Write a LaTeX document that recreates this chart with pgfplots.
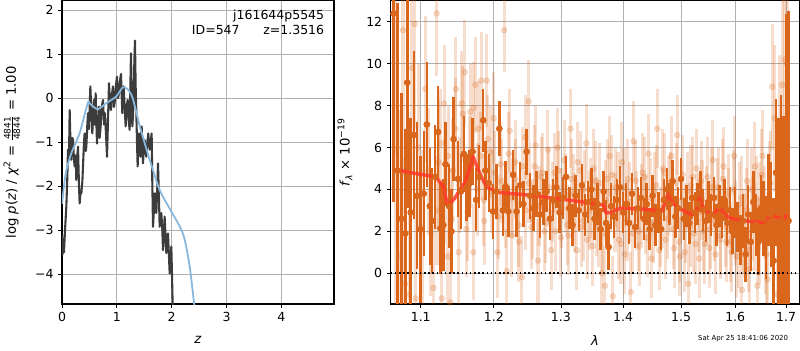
\documentclass[border=0pt]{standalone}
\usepackage{pgfplots}
\usepackage{pgfplotstable}
\pgfplotsset{compat=1.18}
\usepackage{fontspec}
\setmainfont{DejaVu Sans}
\definecolor{dk}{HTML}{D9661A}
\definecolor{bl}{HTML}{8AB8DC}
\definecolor{pz}{HTML}{3C3C3C}
\definecolor{gridc}{HTML}{B0B0B0}
\definecolor{redl}{HTML}{FF3A2A}

\pgfplotstableread{
z y
0.000 -3.10
0.012 -3.55
0.024 -3.20
0.036 -3.50
0.055 -3.00
0.079 -2.46
0.097 -1.80
0.109 -1.17
0.128 -1.30
0.140 -0.27
0.158 -1.20
0.170 -1.40
0.188 -0.90
0.201 -0.95
0.219 -1.40
0.231 -1.55
0.249 -1.30
0.261 -1.86
0.280 -1.30
0.292 -1.10
0.310 -2.00
0.322 -2.39
0.340 -2.10
0.353 -2.16
0.371 -1.90
0.383 -1.55
0.401 -1.00
0.413 -0.80
0.432 -1.20
0.444 -1.10
0.462 -0.60
0.474 -0.34
0.492 -0.70
0.505 -0.20
0.517 0.27
0.535 -0.30
0.553 -0.80
0.565 -0.50
0.584 -0.04
0.596 -0.60
0.614 0.11
0.626 -0.50
0.638 -1.03
0.657 -0.60
0.675 -0.19
0.687 -0.90
0.705 -0.64
0.723 -0.20
0.748 -0.04
0.766 -0.60
0.784 -0.34
0.802 -0.80
0.821 -1.33
0.839 -0.50
0.857 0.34
0.875 -0.10
0.894 -0.27
0.912 0.10
0.930 0.27
0.948 -0.20
0.967 -0.04
0.985 0.30
1.003 0.49
1.021 0.00
1.040 0.11
1.058 0.40
1.076 0.55
1.088 0.10
1.100 -0.34
1.112 0.10
1.125 0.27
1.143 -0.20
1.161 -0.64
1.179 -0.20
1.198 -0.04
1.216 -0.50
1.234 -0.72
1.246 0.20
1.258 1.02
1.271 0.10
1.283 -0.64
1.295 -0.40
1.307 -0.04
1.319 0.80
1.331 1.31
1.343 0.30
1.356 -0.34
1.368 -1.00
1.380 -1.55
1.392 -1.00
1.404 -0.80
1.416 -1.10
1.429 -1.33
1.441 -0.90
1.453 -0.64
1.465 -1.10
1.477 -1.48
1.495 -1.10
1.508 -0.95
1.526 -1.20
1.538 -1.33
1.556 -1.00
1.574 -0.80
1.587 -1.00
1.599 -1.17
1.617 -1.00
1.635 -0.80
1.647 -1.90
1.660 -2.92
1.678 -2.50
1.696 -2.16
1.708 -2.40
1.720 -2.61
1.739 -2.00
1.751 -1.48
1.769 -2.30
1.781 -2.92
1.799 -2.70
1.812 -2.61
1.830 -3.00
1.842 -3.45
1.860 -3.10
1.872 -2.69
1.891 -3.20
1.903 -3.52
1.921 -3.30
1.933 -3.07
1.951 -3.60
1.964 -3.98
1.982 -3.60
1.994 -3.37
2.006 -4.00
2.018 -4.67
2.024 -5.50
}\pzdata

\pgfplotstableread{
z y
0.000 -2.40
0.040 -1.95
0.080 -1.63
0.170 -1.25
0.320 -0.80
0.470 -0.11
0.500 -0.11
0.560 -0.18
0.660 -0.25
0.810 -0.11
0.990 0.04
1.110 0.25
1.200 0.20
1.290 0.00
1.420 -0.64
1.600 -1.40
1.780 -2.08
1.960 -2.50
2.150 -2.92
2.240 -3.22
2.330 -3.83
2.410 -4.67
2.440 -5.00
}\tpl

\pgfplotstableread{
x y
1.0723 4.91
1.090 4.78
1.110 4.66
1.121 4.55
1.130 4.15
1.1359 3.22
1.145 3.55
1.152 3.95
1.160 4.35
1.166 5.00
1.171 5.58
1.176 5.10
1.181 4.70
1.187 4.30
1.193 4.07
1.207 3.86
1.245 3.75
1.300 3.54
1.354 3.32
1.368 3.25
1.372 2.87
1.380 2.90
1.390 3.05
1.400 3.11
1.440 3.05
1.466 2.95
1.472 3.40
1.477 3.80
1.482 3.45
1.487 3.30
1.500 3.05
1.515 2.85
1.525 2.80
1.529 3.10
1.533 3.60
1.538 3.25
1.543 3.00
1.557 2.80
1.566 3.00
1.570 3.20
1.575 3.00
1.580 2.80
1.590 2.65
1.599 2.58
1.620 2.50
1.653 2.42
1.660 2.55
1.665 2.70
1.680 2.72
1.688 2.60
1.693 2.50
1.698 2.55
1.700 2.80
}\model

\pgfplotstableread{
x y e
1.065 12.4 9
1.070 4.9 8
1.075 2.6 6
1.080 1.9 5
1.0825 9.1 6
1.087 2.9 4.5
1.091 6.6 4
1.095 3.7 3.5
1.100 2.1 3.5
1.104 3.8 3
1.108 7.1 3
1.112 3.2 2.8
1.115 2.5 2.5
1.119 4.6 2.5
1.123 6.75 2.2
1.126 2.15 2.2
1.130 2.3 2.2
1.133 5.2 2.0
1.138 3.2 2.0
1.141 2.0 2.0
1.144 6.4 2.0
1.150 4.5 1.8
1.154 3.9 1.8
1.158 5.7 1.8
1.162 4.1 1.6
1.166 4.3 1.6
1.170 5.8 1.6
1.175 3.5 1.5
1.179 4.6 1.5
1.185 7.3 1.5
1.188 4.9 1.4
1.193 4.3 1.4
1.199 2.95 1.3
1.204 3.9 1.3
1.208 6.9 1.3
1.213 3.0 1.2
1.217 4.15 1.2
1.221 2.95 1.2
1.228 4.7 1.2
1.233 2.95 1.2
1.238 4.2 1.1
1.243 3.3 1.1
1.248 5.8 1.1
1.253 3.7 1.1
1.258 3.1 1.1
1.263 3.8 1.1
1.268 2.8 1.1
1.273 3.4 1.1
1.278 3.9 1.0
1.283 2.6 1.0
1.288 3.5 1.0
1.293 4.1 1.0
1.298 2.9 1.0
1.303 3.6 1.0
1.308 4.6 1.0
1.313 3.1 1.0
1.318 2.3 1.0
1.323 3.7 1.0
1.328 3.0 1.0
1.333 4.2 1.0
1.338 2.8 1.0
1.343 3.4 1.0
1.348 4.0 1.0
1.353 2.6 1.0
1.358 3.3 1.0
1.363 2.1 1.0
1.368 3.9 1.0
1.372 2.4 1.1
1.376 1.25 1.1
1.380 3.2 1.1
1.385 2.7 1.0
1.390 3.5 1.0
1.395 4.1 1.0
1.400 2.9 1.0
1.405 3.3 1.0
1.410 2.4 1.0
1.415 3.8 1.0
1.420 2.2 1.0
1.425 3.1 1.0
1.430 3.6 1.0
1.435 2.6 1.0
1.440 3.3 1.0
1.445 2.1 1.0
1.450 3.7 1.0
1.455 2.3 1.0
1.460 2.9 1.0
1.465 2.1 1.0
1.470 3.5 1.0
1.475 4.0 1.0
1.480 3.3 1.0
1.485 4.4 1.0
1.490 2.7 1.0
1.495 3.1 1.0
1.500 4.5 1.0
1.505 2.6 1.0
1.510 3.2 1.0
1.515 2.4 1.0
1.520 3.6 1.0
1.525 2.9 1.0
1.530 3.3 1.0
1.535 3.9 1.0
1.540 3.0 1.0
1.545 2.5 1.0
1.550 3.4 1.0
1.555 2.8 1.0
1.560 3.6 1.0
1.565 2.3 1.0
1.570 3.2 1.0
1.575 2.7 1.0
1.580 3.5 1.0
1.585 2.4 1.1
1.590 3.0 1.1
1.595 2.0 1.1
1.600 2.9 1.2
1.605 2.2 1.2
1.610 1.6 1.2
1.615 2.5 1.3
1.620 0.9 1.3
1.625 2.8 1.4
1.630 1.5 1.4
1.635 3.4 1.5
1.640 2.3 1.5
1.645 1.5 1.6
1.650 3.1 1.6
1.655 2.6 1.8
1.660 1.7 2.0
1.665 3.5 2.2
1.670 2.8 2.5
1.675 0.6 3.0
1.680 4.8 3.5
1.685 2.9 4.5
1.690 2.5 6
1.695 -0.5 8
1.700 2.4 10
1.705 2.5 10
}\dark

\pgfplotstableread{
x y e
1.0675 5.9 8
1.0725 0.8 7
1.077 11.6 7
1.0795 -0.5 6
1.085 -1.0 6
1.0885 9.8 5
1.092 11.9 5
1.0935 -1.2 5
1.097 6.0 4
1.102 1.9 4
1.106 8.8 3.5
1.110 4.9 3
1.113 1.9 3
1.117 -0.7 3
1.121 12.4 3
1.124 5.3 3
1.128 -1.2 2.8
1.131 8.1 2.8
1.136 0.8 2.5
1.140 -1.4 2.5
1.143 4.9 2.5
1.147 8.8 2.5
1.151 1.0 2.5
1.155 8.1 2.5
1.159 9.6 2.5
1.163 2.9 2.3
1.167 7.7 2.3
1.171 1.0 2.3
1.174 9.0 2.3
1.178 6.9 2.3
1.182 9.2 2.3
1.186 3.5 2.2
1.190 9.2 2.2
1.195 5.8 2.2
1.200 7.4 2.2
1.205 1.0 2.2
1.210 5.2 2.0
1.215 11.6 2.0
1.219 0.1 2.0
1.223 6.8 2.0
1.226 1.8 2.0
1.231 5.3 2.0
1.236 2.3 2.0
1.241 -0.2 2.0
1.246 6.5 2.0
1.251 8.2 2.0
1.255 2.2 2.0
1.260 5.1 2.0
1.265 0.6 2.0
1.270 4.6 1.9
1.275 2.0 1.9
1.280 5.9 1.9
1.285 1.1 1.9
1.290 4.8 1.9
1.295 6.0 1.9
1.300 1.7 1.9
1.305 5.4 1.9
1.310 2.3 1.9
1.315 6.9 1.9
1.320 3.8 1.9
1.325 1.1 1.9
1.330 4.9 1.9
1.335 2.5 1.9
1.340 6.2 1.9
1.345 3.0 1.9
1.350 1.3 1.9
1.355 4.4 1.9
1.360 2.2 1.9
1.365 0.0 1.9
1.370 -0.6 1.9
1.374 4.5 1.9
1.378 5.6 1.9
1.383 -1.1 1.9
1.388 4.1 1.9
1.393 1.6 1.9
1.398 5.3 1.9
1.403 0.9 1.9
1.408 4.5 1.9
1.413 -0.9 1.9
1.418 6.3 1.9
1.423 3.0 1.9
1.428 1.3 1.9
1.433 4.8 1.9
1.438 2.8 1.9
1.443 5.7 1.9
1.448 0.7 1.9
1.453 3.9 1.9
1.458 6.9 1.9
1.463 2.2 1.9
1.468 5.0 1.9
1.473 1.6 1.9
1.478 3.7 1.9
1.483 5.6 1.9
1.488 1.2 1.9
1.493 6.6 1.9
1.498 0.8 1.9
1.503 4.7 1.9
1.508 2.4 1.9
1.513 -0.5 1.9
1.518 4.2 1.9
1.523 1.9 1.9
1.528 5.0 1.9
1.533 0.7 1.9
1.538 3.5 1.9
1.543 1.4 1.9
1.548 4.6 1.9
1.553 2.1 1.9
1.558 5.4 1.9
1.563 0.9 1.9
1.568 4.1 1.9
1.573 1.8 1.9
1.578 5.1 1.9
1.583 1.5 1.9
1.588 3.8 1.9
1.593 1.0 1.9
1.598 5.6 1.9
1.603 0.8 2.0
1.608 3.3 2.0
1.613 -0.8 2.0
1.618 1.8 2.0
1.623 4.4 2.0
1.628 0.2 2.0
1.633 2.6 2.0
1.638 5.1 2.1
1.643 -0.6 2.1
1.648 3.2 2.1
1.653 5.6 2.2
1.658 1.2 2.2
1.663 -0.3 2.3
1.668 4.3 2.5
1.672 8.9 3
1.677 7.4 3.5
1.682 -1.0 4
1.687 5.4 5
1.692 9.0 7
1.697 10.2 8
1.702 10.0 9
}\light

\pgfplotstableread{
x y e
1.1215 3.0 2.6
1.1265 6.2 2.6
1.1315 3.9 2.5
1.1365 5.6 2.4
1.1415 2.6 2.4
1.1465 6.9 2.4
1.1515 4.2 2.3
1.1565 7.6 2.3
1.1615 2.1 2.3
1.1665 5.3 2.2
1.1715 7.9 2.2
1.1765 4.0 2.2
1.1815 5.6 2.1
1.1865 2.5 2.1
1.1915 6.4 2.1
1.1965 3.9 2.0
1.2015 4.8 2.0
1.2065 2.7 2.0
1.2115 4.4 2.0
1.2165 3.2 2.0
1.2215 5.7 2.0
1.2265 3.6 1.9
1.2315 4.5 1.9
1.2365 1.5 1.9
1.2415 5.1 1.9
1.2465 3.0 1.9
1.2515 4.3 1.9
1.2565 2.6 1.9
1.2615 6.1 1.9
1.2665 3.2 1.9
1.2715 4.8 1.9
1.2765 2.4 1.9
1.2815 4.1 1.9
1.2865 3.4 1.9
1.2915 2.0 1.9
1.2965 4.9 1.9
1.3015 3.1 1.9
1.3065 3.8 1.9
1.3115 1.8 1.9
1.3165 4.5 1.9
1.3215 2.9 1.9
1.3265 5.3 1.9
1.3315 2.2 1.9
1.3365 4.0 1.9
1.3415 1.6 1.9
1.3465 3.6 1.9
1.3515 5.0 1.9
1.3565 2.7 1.9
1.3615 4.3 1.9
1.3665 1.9 1.9
1.3715 3.5 1.9
1.3765 2.1 1.9
1.3815 4.7 1.9
1.3865 2.9 1.9
1.3915 3.9 1.9
1.3965 1.4 1.9
1.4015 4.1 1.9
1.4065 2.5 1.9
1.4115 3.4 1.9
1.4165 1.9 1.9
1.4215 4.4 1.9
1.4265 2.0 1.9
1.4315 3.3 1.9
1.4365 4.6 1.9
1.4415 1.7 1.9
1.4465 3.6 1.9
1.4515 2.4 1.9
1.4565 4.2 1.9
1.4615 1.1 1.9
1.4665 3.1 1.9
1.4715 4.8 1.9
1.4765 2.6 1.9
1.4815 3.9 1.9
1.4865 2.1 1.9
1.4915 4.3 1.9
1.4965 1.5 1.9
1.5015 3.5 1.9
1.5065 1.0 1.9
1.5115 3.9 1.9
1.5165 2.2 1.9
1.5215 4.6 1.9
1.5265 1.4 1.9
1.5315 2.9 1.9
1.5365 4.4 1.9
1.5415 2.0 1.9
1.5465 3.2 1.9
1.5515 1.2 1.9
1.5565 4.1 1.9
1.5615 2.5 1.9
1.5665 3.6 1.9
1.5715 1.6 1.9
1.5765 4.5 1.9
1.5815 2.2 1.9
1.5865 3.1 1.9
1.5915 1.5 1.9
1.5965 4.0 1.9
1.6015 2.4 2.0
1.6065 1.3 2.0
1.6115 3.6 2.0
1.6165 2.0 2.0
1.6215 3.0 2.0
1.6265 1.1 2.0
1.6315 4.0 2.0
1.6365 2.2 2.1
1.6415 3.5 2.1
1.6465 1.6 2.1
1.6515 4.7 2.2
1.6565 2.9 2.2
1.6615 0.9 2.3
1.6665 3.8 2.5
}\lighttwo

\begin{document}
\begin{tikzpicture}
\pgfplotsset{
  myax/.style={
    scale only axis, anchor=south west,
    font=\fontsize{9}{10}\selectfont,
    tick align=outside, xtick pos=bottom, ytick pos=left,
    major tick length=2.6pt,
    grid=major, grid style={gridc, line width=0.6pt},
    axis line style={line width=0.8pt},
    tick style={black, line width=0.6pt},
    label style={font=\fontsize{9.5}{11}\selectfont},
    xlabel style={at={(axis description cs:0.5,-0.119)}, anchor=center},
  },
  lightpts/.style={dk, only marks, mark=*, mark size=2.1pt,
    mark options={fill=dk, draw=none, opacity=0.22},
    error bars/.cd, y dir=both, y explicit, error mark=none,
    error bar style={line width=2.2pt, dk, opacity=0.22}},
}
\begin{axis}[myax,
  at={(44.64pt,33.12pt)}, width=195.8pt, height=218.2pt,
  xmin=0, xmax=4.96, ymin=-4.675, ymax=2.21,
  xtick={0,1,2,3,4}, xticklabels={0,1,2,3,4},
  ytick={-4,-3,-2,-1,0,1,2}, yticklabels={−4,−3,−2,−1,0,1,2},
  xlabel={\textit{z}},
  ylabel style={at={(axis description cs:-0.184,0.5)}, anchor=center, rotate=0},
  ylabel={log \textit{p}(\textit{z}) / \textit{χ}\textsuperscript{2} = $\frac{\mbox{\fontsize{6.5}{6.5}\selectfont 4841}}{\mbox{\fontsize{6.5}{6.5}\selectfont 4844}}$ = 1.00},
]
\addplot[pz, line width=1.5pt, line join=round] table[x=z,y=y] {\pzdata};
\addplot[bl, line width=1.3pt, smooth, tension=0.4] table[x=z,y=y] {\tpl};
\node[anchor=north east, align=right, font=\fontsize{9}{11}\selectfont, inner sep=0pt] at (rel axis cs:0.965,0.972) {j161644p5545\\ID=547\hspace{1.9em}z=1.3516};
\end{axis}

\begin{axis}[myax,
  at={(281.3pt,33.12pt)}, width=294.2pt, height=218.2pt,
  xmin=0.05951, xmax=0.54639, ymin=-1.47, ymax=13.0,
  xtick={0.09531,0.18232,0.26236,0.33647,0.40547,0.47000,0.53063},
  xticklabels={1.1,1.2,1.3,1.4,1.5,1.6,1.7},
  ytick={0,2,4,6,8,10,12}, yticklabels={0,2,4,6,8,10,12},
  xlabel={\textit{λ}},
  ylabel style={at={(axis description cs:-0.112,0.5)}, anchor=center},
  ylabel={\textit{f}\textsubscript{\textit{λ}} × 10\textsuperscript{−19}},
]
\addplot[lightpts] table[x expr={ln(\thisrow{x})}, y=y, y error=e] {\light};
\addplot[lightpts] table[x expr={ln(\thisrow{x})}, y=y, y error=e] {\lighttwo};
\addplot[dk, only marks, mark=*, mark size=2.2pt, mark options={fill=dk, draw=none},
  error bars/.cd, y dir=both, y explicit, error mark=none,
  error bar style={line width=1.8pt, dk}]
  table[x expr={ln(\thisrow{x})}, y=y, y error=e] {\dark};
\addplot[redl, opacity=0.85, line width=2.5pt, line join=round] table[x expr={ln(\thisrow{x})},y=y] {\model};
\addplot[black, line width=1.1pt, dash pattern=on 1.1pt off 1.9pt] coordinates {(0.05951,0) (0.54639,0)};
\end{axis}
\node[font=\fontsize{5}{6}\selectfont] at (535pt,7.9pt) {Sat Apr 25 18:41:06 2020};
\pgfresetboundingbox
\path[use as bounding box] (0pt,0pt) rectangle (576pt,252pt);
\end{tikzpicture}
\end{document}
